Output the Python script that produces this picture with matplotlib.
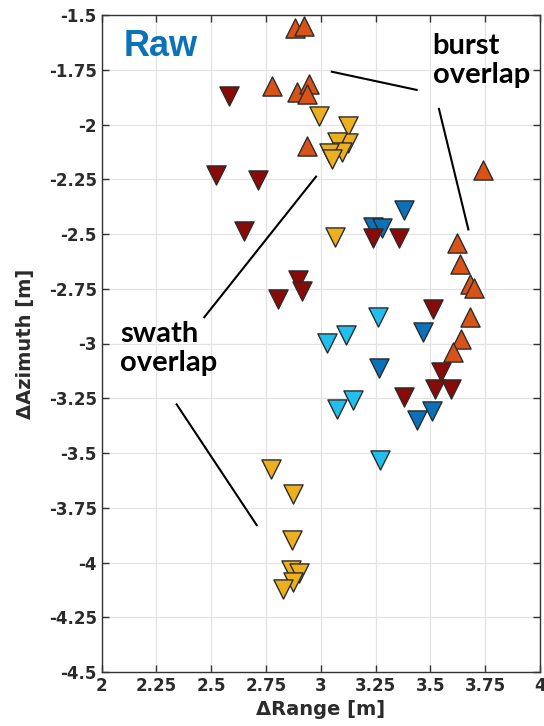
import matplotlib.pyplot as plt

# ── Data ──────────────────────────────────────────────────────────────────────
# orange, upward triangles
up_x = [2.881, 2.925, 2.778, 2.890, 2.945, 2.935, 2.937, 3.741,
        3.620, 3.637, 3.680, 3.700, 3.682, 3.640, 3.603]
up_y = [-1.561, -1.550, -1.824, -1.850, -1.815, -1.860, -2.097, -2.208,
        -2.542, -2.638, -2.730, -2.745, -2.878, -2.981, -3.037]

# blue, downward triangles
blue_x = [3.378, 3.236, 3.278, 3.465, 3.267, 3.506, 3.437]
blue_y = [-2.390, -2.467, -2.471, -2.946, -3.113, -3.307, -3.349]

# light blue, downward triangles
cyan_x = [3.259, 3.113, 3.030, 3.145, 3.072, 3.270]
cyan_y = [-2.881, -2.961, -2.999, -3.258, -3.300, -3.532]

# dark red, downward triangles
red_x = [2.581, 2.520, 2.712, 2.648, 3.239, 3.357, 2.897, 2.915,
         2.803, 3.510, 3.548, 3.521, 3.592, 3.381]
red_y = [-1.870, -2.230, -2.253, -2.485, -2.520, -2.520, -2.710, -2.759,
         -2.798, -2.842, -3.129, -3.209, -3.209, -3.243]

# gold, downward triangles
gold_x = [2.992, 3.125, 3.124, 3.072, 3.095, 3.037, 3.050, 3.066,
          2.773, 2.874, 2.867, 2.864, 2.902, 2.874, 2.829]
gold_y = [-1.961, -2.007, -2.083, -2.078, -2.124, -2.129, -2.159, -2.515,
          -3.574, -3.687, -3.897, -4.034, -4.050, -4.088, -4.122]

x_ticks = [2, 2.25, 2.5, 2.75, 3, 3.25, 3.5, 3.75, 4]
x_labels = ["2", "2.25", "2.5", "2.75", "3", "3.25", "3.5", "3.75", "4"]
y_ticks = [-4.5, -4.25, -4, -3.75, -3.5, -3.25, -3, -2.75, -2.5, -2.25, -2, -1.75, -1.5]
y_labels = ["-4.5", "-4.25", "-4", "-3.75", "-3.5", "-3.25", "-3", "-2.75",
            "-2.5", "-2.25", "-2", "-1.75", "-1.5"]

# annotation leader lines (data coords)
burst_lines = [([3.05, 3.437], [-1.759, -1.842]),
               ([3.539, 3.673], [-1.929, -2.479])]
swath_lines = [([2.978, 2.468], [-2.238, -2.880]),
               ([2.342, 2.707], [-3.278, -3.829])]

# ── Figure ────────────────────────────────────────────────────────────────────
fig = plt.figure(figsize=(5.44, 7.26), dpi=100)
ax = fig.add_axes([101.7 / 544, 54 / 726, 438.3 / 544, 657 / 726])

mk = dict(s=190, edgecolors="#2b2b2b", linewidths=1.0, zorder=3)
ax.scatter(up_x, up_y, marker="^", c="#D95319", **mk)
ax.scatter(blue_x, blue_y, marker="v", c="#0B72BA", **mk)
ax.scatter(cyan_x, cyan_y, marker="v", c="#22BFEE", **mk)
ax.scatter(red_x, red_y, marker="v", c="#8A0A08", **mk)
ax.scatter(gold_x, gold_y, marker="v", c="#ECB01F", **mk)

for lx, ly in burst_lines + swath_lines:
    ax.plot(lx, ly, color="black", lw=1.5, zorder=4)

ax.set_xlim(2, 4)
ax.set_ylim(-4.5, -1.5)
ax.set_xticks(x_ticks)
ax.set_xticklabels(x_labels)
ax.set_yticks(y_ticks)
ax.set_yticklabels(y_labels)
ax.grid(True, color="#e3e3e3", lw=0.9, zorder=0)
ax.set_axisbelow(True)
ax.tick_params(direction="in", length=5, width=1, color="#333333",
               top=True, right=True, labelsize=12, labelcolor="#2b2b2b")
for lab in ax.get_xticklabels() + ax.get_yticklabels():
    lab.set_fontweight("bold")
for sp in ax.spines.values():
    sp.set_color("#333333")
    sp.set_linewidth(1.0)

ax.set_xlabel("ΔRange [m]", fontsize=14, fontweight="bold", color="#2b2b2b", labelpad=4)
ax.set_ylabel("ΔAzimuth [m]", fontsize=14, fontweight="bold", color="#2b2b2b", labelpad=10)

ax.text(0.05, 0.978, "Raw", transform=ax.transAxes, family="Liberation Sans",
        fontsize=26, fontweight="bold", color="#0B72BA", va="top", ha="left")
ax.text(3.51, -1.58, "burst\noverlap", family=["Lato", "DejaVu Sans"],
        fontsize=21, fontweight="bold", va="top", ha="left", linespacing=1.15)
ax.text(2.085, -2.895, "swath\noverlap", family=["Lato", "DejaVu Sans"],
        fontsize=21, fontweight="bold", va="top", ha="left", linespacing=1.15)

fig.savefig("out.png", dpi=100)
